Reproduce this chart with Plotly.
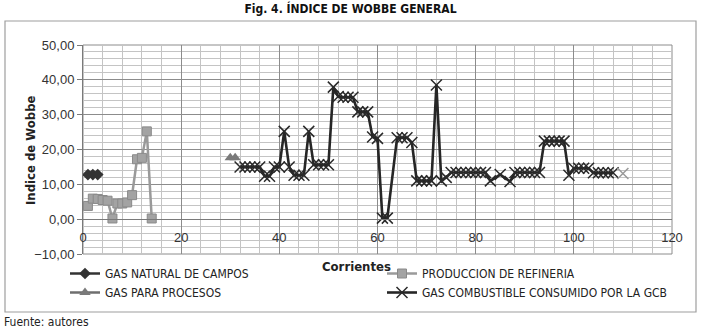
import plotly.graph_objects as go

# ---------------- data ----------------
natural_x = [1, 2, 3]
natural_y = [12.8, 12.8, 12.8]

refineria_x = [1, 2, 3, 4, 5, 6, 7, 8, 9, 10, 11, 12, 13, 14]
refineria_y = [3.8, 5.9, 5.8, 5.5, 5.3, 0.2, 4.5, 4.5, 4.8, 6.9, 17.2, 17.6, 25.2, 0.2]

procesos_x = [30, 31]
procesos_y = [17.6, 17.6]

combustible_x = [32, 33, 34, 35, 36, 37, 38, 39, 40, 41, 42, 43, 44, 45, 46,
                 47, 48, 49, 50, 51, 52, 53, 54, 55, 56, 57, 58, 59, 60, 61, 62,
                 64, 65, 66, 67, 68, 69, 70, 71, 72, 73, 74,
                 75, 76, 77, 78, 79, 80, 81, 82, 83, 85, 87,
                 88, 89, 90, 91, 92, 93, 94, 95, 96, 97, 98, 99,
                 100, 101, 102, 103, 104, 105, 106, 107, 108, 109, 110]
combustible_y = [15.0, 15.0, 15.0, 15.0, 15.0, 12.3, 12.3, 15.0, 15.0, 25.2, 15.0, 12.6, 12.6, 12.6, 25.2,
                 15.6, 15.6, 15.6, 15.6, 37.9, 35.2, 35.0, 35.0, 35.0, 30.8, 30.8, 30.8, 23.6, 23.2, 0.3, 0.3,
                 23.4, 23.4, 23.4, 22.0, 11.0, 11.0, 11.0, 11.0, 38.5, 11.0, 12.0,
                 13.4, 13.4, 13.4, 13.4, 13.4, 13.4, 13.4, 13.4, 11.0, 12.8, 10.8,
                 13.4, 13.4, 13.4, 13.4, 13.4, 13.4, 22.4, 22.4, 22.4, 22.4, 22.4, 12.6,
                 14.6, 14.6, 14.6, 14.6, 13.3, 13.3, 13.3, 13.3, 13.3, None, 13.1]

y_range = [-10, 50]
x_range = [0, 120]

# ---------------- layout geometry ----------------
W, H = 701, 331
L, R, T, B = 83, 29, 45, 77
PW, PH = W - L - R, H - T - B


def px_x(px):
    return (px - L) / PW


def px_y(py):
    return (H - B - py) / PH


TICKFONT = dict(family="Liberation Sans, Arial, sans-serif", size=13, color="#333333")
NARROW = "Liberation Sans Narrow, Arial Narrow, DejaVu Sans Condensed, sans-serif"

fig = go.Figure()

fig.add_trace(go.Scatter(
    x=natural_x, y=natural_y, name="GAS NATURAL DE CAMPOS", mode="lines+markers",
    line=dict(color="#333333", width=2.5),
    marker=dict(symbol="diamond", size=9, color="#333333"),
    legend="legend"))

fig.add_trace(go.Scatter(
    x=refineria_x, y=refineria_y, name="PRODUCCION DE REFINERIA", mode="lines+markers",
    line=dict(color="#9a9a9a", width=2.5),
    marker=dict(symbol="square", size=9, color="#a3a3a3", line=dict(color="#8a8a8a", width=1)),
    legend="legend2"))

fig.add_trace(go.Scatter(
    x=procesos_x, y=procesos_y, name="GAS PARA PROCESOS", mode="lines+markers",
    line=dict(color="#6e6e6e", width=2.5),
    marker=dict(symbol="triangle-up", size=10, color="#7a7a7a"),
    legend="legend"))

comb_colors = ["#2a2a2a"] * (len(combustible_x) - 1) + ["#9a9a9a"]
fig.add_trace(go.Scatter(
    x=combustible_x, y=combustible_y, name="GAS COMBUSTIBLE CONSUMIDO POR LA GCB",
    mode="lines+markers",
    line=dict(color="#262626", width=2.6),
    marker=dict(symbol="x-thin", size=11, color="#2a2a2a",
                line=dict(color=comb_colors, width=1.5)),
    legend="legend2"))

LEGFONT = dict(family=NARROW, size=12, color="#222222")

fig.update_layout(
    width=W, height=H,
    margin=dict(l=L, r=R, t=T, b=B),
    paper_bgcolor="white", plot_bgcolor="white",
    separators=", ",
    showlegend=True,
    title=dict(text="<b>Fig. 4. ÍNDICE DE WOBBE GENERAL</b>", x=0.5, xref="container",
               xanchor="center", y=1 - 9 / H, yref="container", yanchor="middle",
               font=dict(family=NARROW, size=12, color="#111111")),
    xaxis=dict(range=x_range, tickmode="linear", tick0=0, dtick=20, ticks="",
               showgrid=True, gridcolor="#8c8c8c", gridwidth=1,
               minor=dict(tickmode="linear", tick0=0, dtick=4, showgrid=True,
                          gridcolor="#c4c4c4", gridwidth=1),
               zeroline=False, showline=True, linecolor="#7a7a7a", linewidth=1,
               anchor="free", position=1 / 6, ticklabelstandoff=6,
               tickfont=TICKFONT),
    yaxis=dict(range=y_range, tickmode="linear", tick0=0, dtick=10, tickformat=".2f",
               ticks="outside", ticklen=5, tickcolor="#7a7a7a",
               showgrid=True, gridcolor="#8c8c8c", gridwidth=1,
               minor=dict(tickmode="linear", tick0=0, dtick=2, showgrid=True,
                          gridcolor="#c4c4c4", gridwidth=1),
               zeroline=False, showline=True, linecolor="#7a7a7a", linewidth=1,
               tickfont=TICKFONT),
    legend=dict(x=px_x(65), y=px_y(259), xanchor="left", yanchor="top",
                orientation="v", bgcolor="rgba(0,0,0,0)", itemwidth=30,
                tracegroupgap=0, font=LEGFONT),
    legend2=dict(x=px_x(382), y=px_y(259), xanchor="left", yanchor="top",
                 orientation="v", bgcolor="rgba(0,0,0,0)", itemwidth=30,
                 tracegroupgap=0, font=LEGFONT),
)

# plot-area frame and outer chart frame
fig.add_shape(type="rect", xref="paper", yref="paper", x0=0, x1=1, y0=0, y1=1,
              line=dict(color="#8c8c8c", width=1), layer="below")
fig.add_shape(type="rect", xref="paper", yref="paper",
              x0=px_x(5), x1=px_x(696), y0=px_y(312), y1=px_y(21),
              line=dict(color="#9e9e9e", width=1.2))

# axis titles & source
fig.add_annotation(text="<b>Corrientes</b>", xref="paper", yref="paper",
                   x=px_x(356), y=px_y(266), xanchor="center", yanchor="middle",
                   showarrow=False, font=dict(family=NARROW, size=13, color="#222222"))
fig.add_annotation(text="<b>Indice de Wobbe</b>", xref="paper", yref="paper",
                   x=px_x(30), y=px_y(150), xanchor="center", yanchor="middle",
                   showarrow=False, textangle=-90,
                   font=dict(family=NARROW, size=13, color="#222222"))
fig.add_annotation(text="Fuente: autores", xref="paper", yref="paper",
                   x=px_x(2), y=px_y(322), xanchor="left", yanchor="middle",
                   showarrow=False, font=dict(family=NARROW, size=12, color="#222222"))

fig.write_html("out.html", config={"displayModeBar": False},
               post_script="document.body.style.margin='0';")
